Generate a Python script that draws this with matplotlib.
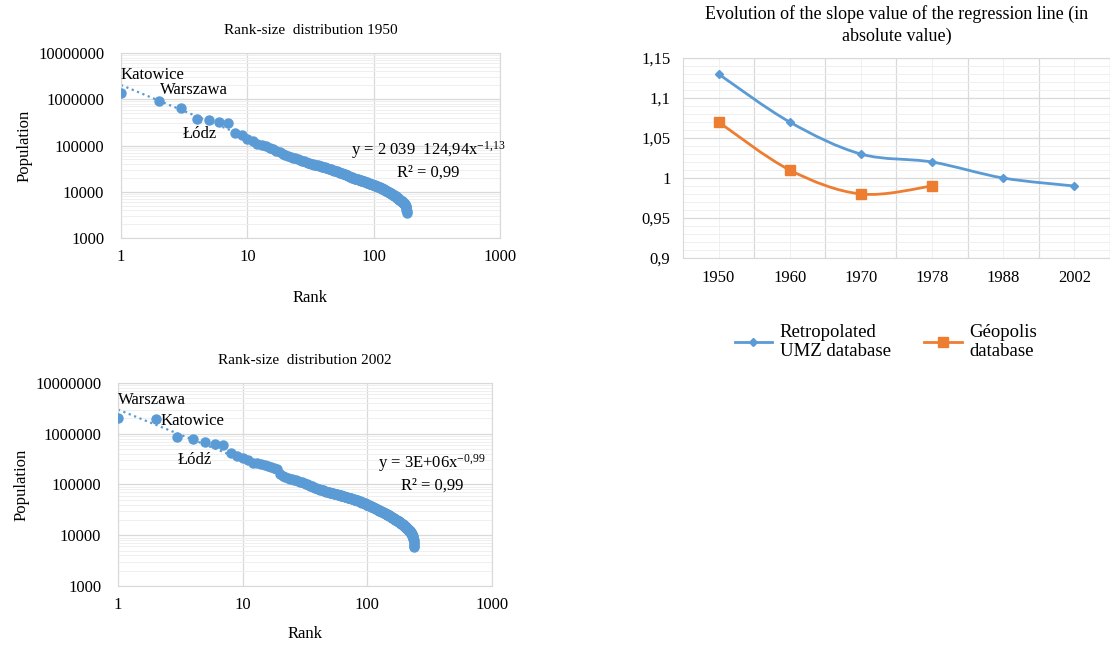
import matplotlib
matplotlib.use("Agg")
import matplotlib.pyplot as plt
from matplotlib.path import Path
from matplotlib.patches import PathPatch
from matplotlib.lines import Line2D
from matplotlib.ticker import LogLocator, FixedLocator, MultipleLocator, NullFormatter

plt.rcParams['font.family'] = ['Liberation Serif', 'DejaVu Serif']
plt.rcParams['mathtext.fontset'] = 'custom'
plt.rcParams['mathtext.rm'] = 'Liberation Serif'
plt.rcParams['mathtext.it'] = 'Liberation Serif:italic'

BLUE = '#5B9BD5'
ORANGE = '#ED7D31'

# Population by rank (thousands)
pop_1950 = [
    1360, 920, 650, 380, 365, 330, 310, 190, 172, 135,
    128, 110, 104, 100, 90, 82, 77, 72, 67, 63,
    60, 57, 55, 53, 51, 49, 47, 45.5, 44, 42,
    41.2, 40.4, 39.6, 38.8, 38, 37.2, 36.5, 35.8, 35.1, 34.4,
    33.7, 33, 32.3, 31.6, 31, 30.4, 29.8, 29.2, 28.6, 28,
    27.5, 27, 26.5, 26, 25.5, 25, 24.5, 24.1, 23.7, 23.3,
    22.9, 22.5, 22.1, 21.7, 21.3, 21, 20.6, 20.3, 19.9, 19.5,
    19.3, 19.1, 18.9, 18.7, 18.5, 18.3, 18.1, 17.9, 17.7, 17.5,
    17.3, 17.1, 16.9, 16.7, 16.5, 16.3, 16.1, 15.9, 15.7, 15.5,
    15.35, 15.2, 15.05, 14.9, 14.75, 14.6, 14.45, 14.3, 14.15, 14,
    13.9, 13.7, 13.6, 13.5, 13.3, 13.2, 13.1, 12.9, 12.8, 12.6,
    12.5, 12.4, 12.2, 12.1, 11.9, 11.8, 11.7, 11.5, 11.4, 11.3,
    11.1, 11.0, 10.9, 10.7, 10.6, 10.5, 10.4, 10.2, 10.1, 10.0,
    9.9, 9.8, 9.7, 9.6, 9.5, 9.3, 9.2, 9.1, 9.0, 8.9,
    8.8, 8.7, 8.6, 8.5, 8.4, 8.3, 8.2, 8.1, 7.95, 7.8,
    7.7, 7.6, 7.5, 7.4, 7.3, 7.2, 7.1, 7.0, 6.9, 6.8,
    6.7, 6.6, 6.5, 6.45, 6.4, 6.3, 6.25, 6.2, 6.1, 6.0,
    5.9, 5.8, 5.7, 5.6, 5.5, 5.4, 5.3, 5.2, 5.0, 4.7,
    4.4, 4.1, 3.8, 3.4,
]

# Population by rank (thousands)
pop_2002 = [
    2000, 1980, 850, 790, 700, 630, 600, 410, 370, 340,
    300, 270, 260, 250, 245, 235, 225, 215, 205, 160,
    145, 140, 135, 130, 127, 124, 121, 117, 113, 110,
    107, 104, 101, 98, 95, 92, 89, 86.5, 84, 81,
    79.8, 78.6, 77.4, 76.2, 75, 73.8, 72.6, 71.4, 70.2, 69,
    68.3, 67.6, 66.9, 66.2, 65.5, 64.8, 64.1, 63.4, 62.7, 62,
    61.3, 60.6, 59.9, 59.2, 58.5, 57.8, 57.1, 56.4, 55.7, 55,
    54.5, 54, 53.5, 53, 52.5, 52, 51.5, 51, 50.5, 50,
    49.5, 49, 48.5, 48, 47.5, 47, 46.5, 46, 45.5, 45,
    44.5, 44, 43.5, 43, 42.5, 42, 41.5, 41, 40.5, 40,
    39.6, 39.2, 38.8, 38.5, 38.1, 37.7, 37.3, 37, 36.6, 36.2,
    35.8, 35.4, 35, 34.6, 34.2, 33.8, 33.4, 33, 32.6, 32.2,
    31.9, 31.6, 31.3, 31, 30.7, 30.4, 30.1, 29.8, 29.4, 29,
    28.8, 28.6, 28.3, 28.1, 27.9, 27.6, 27.4, 27.2, 26.9, 26.7,
    26.5, 26.2, 26, 25.8, 25.5, 25.3, 25.1, 24.8, 24.6, 24.4,
    24.1, 23.9, 23.7, 23.4, 23.2, 23, 22.7, 22.5, 22.3, 22,
    21.8, 21.6, 21.4, 21.2, 21, 20.8, 20.6, 20.4, 20.2, 20,
    19.8, 19.7, 19.5, 19.3, 19.2, 19, 18.8, 18.7, 18.5, 18.3,
    18.2, 18, 17.8, 17.7, 17.5, 17.3, 17.2, 17, 16.8, 16.7,
    16.5, 16.3, 16.2, 16, 15.8, 15.7, 15.5, 15.3, 15.2, 15,
    14.85, 14.7, 14.55, 14.4, 14.25, 14.1, 13.95, 13.8, 13.65, 13.5,
    13.35, 13.2, 13.05, 12.9, 12.75, 12.6, 12.45, 12.3, 12.15, 12,
    11.8, 11.6, 11.4, 11.2, 11, 10.8, 10.6, 10.4, 10.2, 10,
    9.7, 9.4, 9.0, 8.6, 8.1, 7.5, 6.8, 6.2, 5.8,
]

# Power trendlines shown on the charts
trend_1950 = (2039124.94, -1.13)
trend_2002 = (3e6, -0.99)

# Slope of the regression line (absolute value)
years = ['1950', '1960', '1970', '1978', '1988', '2002']
slope_umz = [1.13, 1.07, 1.03, 1.02, 1.00, 0.99]
slope_geopolis = [1.07, 1.01, 0.98, 0.99]


def rank_size(ax, pops, trend, title, labels, eq_text, eq_pos, xlabelpad):
    ranks = list(range(1, len(pops) + 1))
    values = [p * 1000 for p in pops]

    # dotted trendline under the points
    tr = [trend[0] * r ** trend[1] for r in ranks]
    ax.plot(ranks, tr, linestyle=(0, (1, 1.6)), color=BLUE, lw=1.6, zorder=2)
    ax.plot(ranks, values, 'o', color=BLUE, markersize=6.5, zorder=3)

    ax.set_xscale('log')
    ax.set_yscale('log')
    ax.set_xlim(1, 1000)
    ax.set_ylim(1000, 1e7)
    ax.yaxis.set_minor_locator(LogLocator(base=10, subs=range(2, 10), numticks=20))
    ax.yaxis.set_minor_formatter(NullFormatter())
    ax.xaxis.set_minor_locator(FixedLocator([]))
    ax.set_yticks([1e3, 1e4, 1e5, 1e6, 1e7])
    ax.set_yticklabels(['1000', '10000', '100000', '1000000', '10000000'])
    ax.set_xticks([1, 10, 100, 1000])
    ax.set_xticklabels(['1', '10', '100', '1000'])

    ax.grid(which='major', color='#d9d9d9', lw=0.9)
    ax.grid(which='minor', axis='y', color='#efefef', lw=0.7)
    ax.set_axisbelow(True)
    for s in ax.spines.values():
        s.set_color('#d9d9d9')
    ax.tick_params(which='both', length=0, labelsize=12)
    ax.tick_params(axis='y', pad=12)
    ax.tick_params(axis='x', pad=8)

    ax.set_title(title, fontsize=11, pad=14)
    ax.set_xlabel('Rank', fontsize=12, labelpad=xlabelpad)
    ax.set_ylabel('Population', fontsize=12, labelpad=4)

    for txt, x, y in labels:
        ax.text(x, y, txt, fontsize=12, ha='left', va='center')

    ax.text(eq_pos[0], eq_pos[1], eq_text, fontsize=12, ha='center', va='center',
            transform=ax.transAxes, linespacing=1.3)


def smooth_path(xs, ys):
    # bezier smoothing through the points (like the spreadsheet "smoothed line")
    pts = list(zip(xs, ys))
    verts = [pts[0]]
    codes = [Path.MOVETO]
    n = len(pts)
    for i in range(n - 1):
        p0 = pts[i - 1] if i > 0 else pts[i]
        p1 = pts[i]
        p2 = pts[i + 1]
        p3 = pts[i + 2] if i + 2 < n else pts[i + 1]
        c1 = (p1[0] + (p2[0] - p0[0]) / 6, p1[1] + (p2[1] - p0[1]) / 6)
        c2 = (p2[0] - (p3[0] - p1[0]) / 6, p2[1] - (p3[1] - p1[1]) / 6)
        verts += [c1, c2, p2]
        codes += [Path.CURVE4] * 3
    return Path(verts, codes)


fig = plt.figure(figsize=(11.1, 6.45), dpi=100)

ax1 = fig.add_axes([0.109, 0.631, 0.3414, 0.2868])
rank_size(ax1, pop_1950, trend_1950, 'Rank-size  distribution 1950',
          [('Katowice', 1.0, 3.4e6), ('Warszawa', 2.05, 1.6e6), ('Łódz', 3.05, 1.75e5)],
          'y = 2 039  124,94x$^{\\mathrm{-1{,}13}}$\nR² = 0,99', (0.81, 0.42), 18)

ax2 = fig.add_axes([0.1063, 0.0915, 0.3369, 0.3147])
rank_size(ax2, pop_2002, trend_2002, 'Rank-size  distribution 2002',
          [('Warszawa', 1.0, 4.6e6), ('Katowice', 2.2, 1.75e6), ('Łódź', 3.0, 3.1e5)],
          'y = 3E+06x$^{\\mathrm{-0{,}99}}$\nR² = 0,99', (0.84, 0.555), 9)

# right chart: slope evolution
ax3 = fig.add_axes([0.6153, 0.6, 0.3847, 0.310])
xu = list(range(len(slope_umz)))
xg = list(range(len(slope_geopolis)))
ax3.add_patch(PathPatch(smooth_path(xu, slope_umz), facecolor='none', edgecolor=BLUE, lw=2, zorder=3))
ax3.add_patch(PathPatch(smooth_path(xg, slope_geopolis), facecolor='none', edgecolor=ORANGE, lw=2, zorder=3))
ax3.plot(xu, slope_umz, 'D', color=BLUE, markersize=4.5, zorder=4)
ax3.plot(xg, slope_geopolis, 's', color=ORANGE, markersize=7, zorder=4)

ax3.set_xlim(-0.5, len(years) - 0.5)
ax3.set_ylim(0.9, 1.15)
ax3.set_xticks(xu)
ax3.set_xticklabels(years)
ax3.yaxis.set_minor_locator(MultipleLocator(0.01))
ax3.set_yticks([0.9, 0.95, 1.0, 1.05, 1.1, 1.15])
ax3.set_yticklabels(['0,9', '0,95', '1', '1,05', '1,1', '1,15'])
ax3.xaxis.set_minor_locator(FixedLocator([x + 0.5 for x in xu]))
ax3.grid(which='major', axis='y', color='#d9d9d9', lw=0.9)
ax3.grid(which='minor', axis='x', color='#d9d9d9', lw=0.9)
ax3.grid(which='major', axis='x', color='#f0f0f0', lw=0.7)
ax3.grid(which='minor', axis='y', color='#efefef', lw=0.7)
ax3.set_axisbelow(True)
for s in ax3.spines.values():
    s.set_color('#d9d9d9')
ax3.tick_params(which='both', length=0, labelsize=12, pad=9)
ax3.set_title('Evolution of the slope value of the regression line (in\nabsolute value)',
              fontsize=13, pad=12, linespacing=1.35)

handles = [Line2D([], [], color=BLUE, lw=2, marker='D', markersize=4.5),
           Line2D([], [], color=ORANGE, lw=2, marker='s', markersize=7)]
fig.legend(handles, ['Retropolated\nUMZ database', 'Géopolis\ndatabase'],
           loc='center', bbox_to_anchor=(0.798, 0.47), ncol=2, frameon=False,
           fontsize=13.5, handlelength=2.0, columnspacing=1.8, handletextpad=0.4)

fig.savefig('out.png', dpi=100)
